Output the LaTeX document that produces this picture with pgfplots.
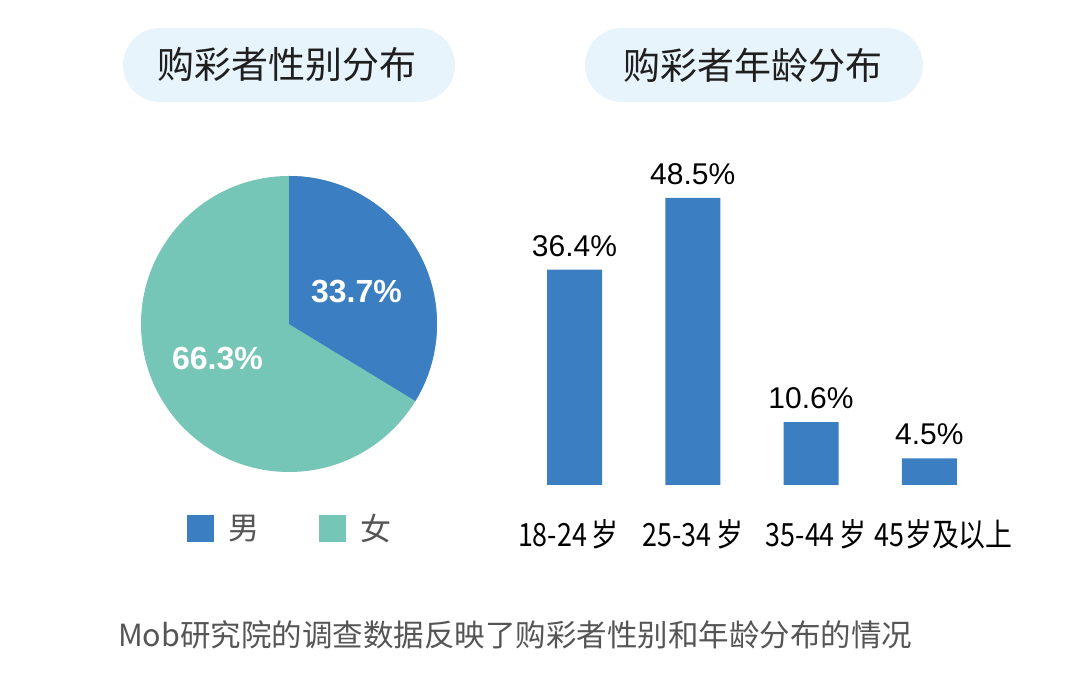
\documentclass[border=0pt]{standalone}
\usepackage{pgfplots}
\pgfplotsset{compat=1.18}
\usepackage{fontspec}
\setmainfont{Liberation Sans}
\newfontfamily\cjk{Noto Sans CJK SC}
\definecolor{cblue}{RGB}{59,126,193}
\definecolor{cteal}{RGB}{118,198,184}
\definecolor{cpill}{RGB}{232,244,251}
\definecolor{cgray}{RGB}{85,85,85}
\def\male{33.7}
\def\female{66.3}
\begin{document}
\begin{tikzpicture}[x=1pt,y=1pt]
\path[use as bounding box] (0,0) rectangle (1080,682);
% title pills
\fill[cpill, rounded corners=37pt] (123,580) rectangle (455,654);
\fill[cpill, rounded corners=37pt] (585,580) rectangle (923,654);
\node[font=\cjk\fontsize{37}{37}\selectfont, text=black!88] at (287,617) {购彩者性别分布};
\node[font=\cjk\fontsize{37}{37}\selectfont, text=black!88] at (753,617) {购彩者年龄分布};
% pie
\begin{axis}[at={(289pt,358pt)}, anchor=center, scale only axis,
  width=296pt, height=296pt, xmin=-1, xmax=1, ymin=-1, ymax=1, hide axis]
\pgfmathsetmacro{\endA}{90-3.6*\male}
\pgfmathsetmacro{\midA}{90-1.8*\male}
\fill[cteal] (axis cs:0,0) circle[radius=148pt];
\fill[cblue] (axis cs:0,0) -- (axis cs:0,1) arc[start angle=90, end angle=\endA, radius=148pt] -- cycle;
\node[font=\bfseries\fontsize{32}{32}\selectfont, text=white, xshift=3pt, yshift=-4pt] at (axis cs:{0.5*cos(\midA)},{0.5*sin(\midA)}) {\male\%};
\node[font=\bfseries\fontsize{32}{32}\selectfont, text=white, xshift=-7pt, yshift=2pt] at (axis cs:{0.5*cos(\midA+180)},{0.5*sin(\midA+180)}) {\female\%};
\end{axis}
% legend
\fill[cblue] (187,140) rectangle (214,167);
\node[font=\cjk\fontsize{31}{31}\selectfont, text=cgray] at (244,153.5) {男};
\fill[cteal] (319,140) rectangle (346,167);
\node[font=\cjk\fontsize{31}{31}\selectfont, text=cgray] at (376,153.5) {女};
% bars
\begin{axis}[at={(515.4pt,197pt)}, anchor=south west, scale only axis,
  width=473pt, height=296pt, xmin=-0.5, xmax=3.5, ymin=0, ymax=50,
  ybar, bar width=55pt,
  axis line style={draw=none}, major tick length=0pt, ytick=\empty,
  xtick={0,1,2,3},
  xticklabels={18-24\,岁\hspace*{15pt}, 25-34\,岁, \hspace*{12pt}35-44\,岁, \hspace*{34pt}45\kern1pt岁及以上},
  xticklabel style={font=\cjk\fontsize{32}{32}\selectfont, text=black, anchor=north, inner sep=0pt, yshift=-34pt, xscale=0.84},
  /pgf/number format/assume math mode=true,
  nodes near coords={\pgfmathprintnumber[fixed,precision=1,fixed zerofill]{\pgfplotspointmeta}\%},
  every node near coord/.append style={font=\fontsize{30}{30}\selectfont, text=black, anchor=south, inner sep=0pt, yshift=13pt},
  clip=false]
\addplot[fill=cblue, draw=none] coordinates {(0,36.4) (1,48.5) (2,10.6) (3,4.5)};
\end{axis}
% caption
\node[font=\cjk\fontsize{30.5}{30.5}\selectfont, text=cgray, anchor=west, inner sep=0pt] at (118,47) {Mob研究院的调查数据反映了购彩者性别和年龄分布的情况};
\end{tikzpicture}
\end{document}
